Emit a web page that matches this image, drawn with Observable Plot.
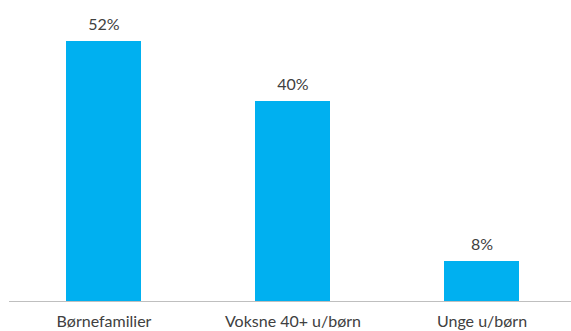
<!DOCTYPE html>
<html>
<head>
<meta charset="utf-8">
<script src="https://cdn.jsdelivr.net/npm/d3@7"></script>
<script src="https://cdn.jsdelivr.net/npm/@observablehq/plot@0.6"></script>
<style>
  html, body { margin: 0; padding: 0; background: #fff; }
  #chart svg { display: block; }
</style>
</head>
<body>
<div id="chart"></div>
<script>
const categories = ["Børnefamilier", "Voksne 40+ u/børn", "Unge u/børn"];
const values = [52, 40, 8];

const data = categories.map((c, i) => ({category: c, value: values[i]}));

const chart = Plot.plot({
  width: 571,
  height: 331,
  marginLeft: 9,
  marginRight: 0,
  marginTop: 1,
  marginBottom: 30,
  style: {fontFamily: "Lato, sans-serif", fontSize: "16px", color: "#404040", background: "#fff"},
  x: {domain: categories, range: [9.5, 576.5], paddingInner: 0.603, paddingOuter: 0.3015, label: null},
  y: {domain: [0, 60], range: [301, 1], axis: null},
  marks: [
    Plot.barY(data, {x: "category", y: "value", fill: "#00B0F0"}),
    Plot.ruleY([0], {stroke: "#BFBFBF", strokeWidth: 1}),
    Plot.text(data, {x: "category", y: "value", text: d => d.value + "%", lineAnchor: "bottom", dy: -12, fill: "#404040", fontSize: 16}),
    Plot.axisX({tickSize: 0, tickPadding: 14, fontSize: 16, fill: "#404040", label: null})
  ]
});
document.getElementById("chart").appendChild(chart);
</script>
</body>
</html>
